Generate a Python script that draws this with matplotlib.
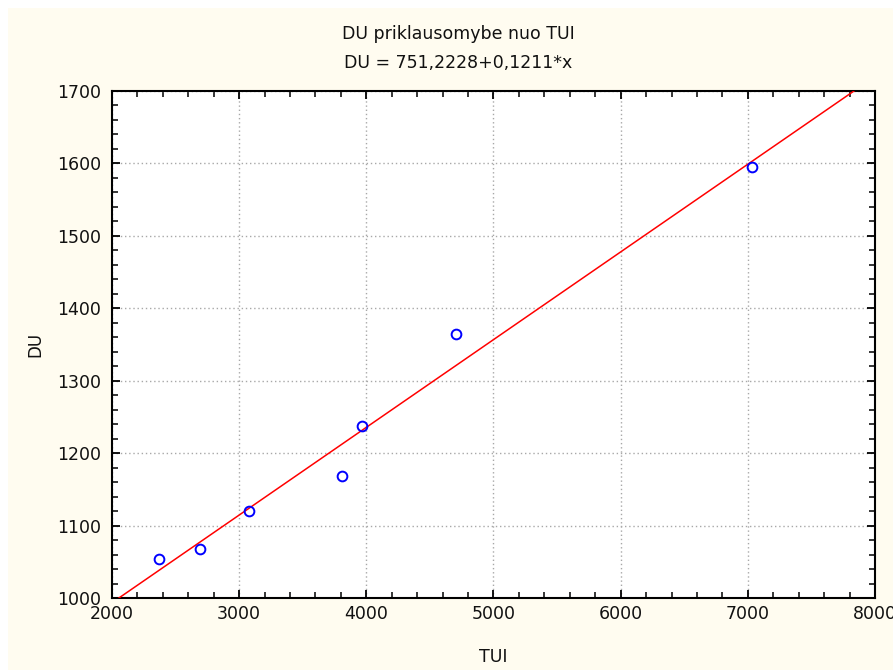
import matplotlib
matplotlib.use("Agg")
import matplotlib.pyplot as plt
import numpy as np
from matplotlib.ticker import MultipleLocator
from matplotlib.patches import Rectangle

# Data
tui = [2367, 2690, 3080, 3808, 3964, 4708, 7030]
du = [1054, 1067, 1120, 1169, 1237, 1364, 1595]
intercept = 751.2228
slope = 0.1211
title_lines = ["DU priklausomybe nuo TUI", "DU = 751,2228+0,1211*x"]
x_label = "TUI"
y_label = "DU"

plt.rcParams['font.family'] = ['DejaVu Sans']

fig = plt.figure(figsize=(8.93, 6.7), dpi=100, facecolor='white')
# cream background with thin white border top/left
fig.patches.append(Rectangle((8/893, 0), 1, (670-8)/670, transform=fig.transFigure,
                             facecolor='#FFFCF0', edgecolor='none', zorder=-10))

ax = fig.add_axes([112/893, 72/670, (875-112)/893, (598-91)/670])
ax.set_facecolor('white')

ax.set_xlim(2000, 8000)
ax.set_ylim(1000, 1700)

xl = np.array([2000, 8000])
ax.plot(xl, intercept + slope * xl, color='red', lw=1.1, zorder=3)
ax.plot(tui, du, linestyle='none', marker='o', markersize=7, markerfacecolor='none',
        markeredgecolor='blue', markeredgewidth=1.4, zorder=4)

ax.xaxis.set_major_locator(MultipleLocator(1000))
ax.xaxis.set_minor_locator(MultipleLocator(200))
ax.yaxis.set_major_locator(MultipleLocator(100))
ax.yaxis.set_minor_locator(MultipleLocator(20))

ax.grid(True, which='major', color='#A8A8A8', linestyle=(0, (1, 2)), linewidth=1)
ax.set_axisbelow(True)

ax.tick_params(which='both', direction='in', top=True, right=True, colors='black',
               labelsize=12.5, labelcolor='#111111')
ax.tick_params(which='major', length=6, width=1.3)
ax.tick_params(which='minor', length=4, width=1.1)
ax.tick_params(axis='x', pad=5)
ax.tick_params(axis='y', pad=8)

for s in ax.spines.values():
    s.set_linewidth(1.5)
    s.set_color('black')

ax.set_xlabel(x_label, fontsize=12.5, labelpad=18, color='#111111')
ax.set_ylabel(y_label, fontsize=12, labelpad=9, color='#111111')

fig.text(458/893, 1 - 34/670, title_lines[0], ha='center', va='center', fontsize=12.5, color='#111111')
fig.text(458/893, 1 - 63/670, title_lines[1], ha='center', va='center', fontsize=12.5, color='#111111')

fig.savefig('out.png', dpi=100, facecolor=fig.get_facecolor())
